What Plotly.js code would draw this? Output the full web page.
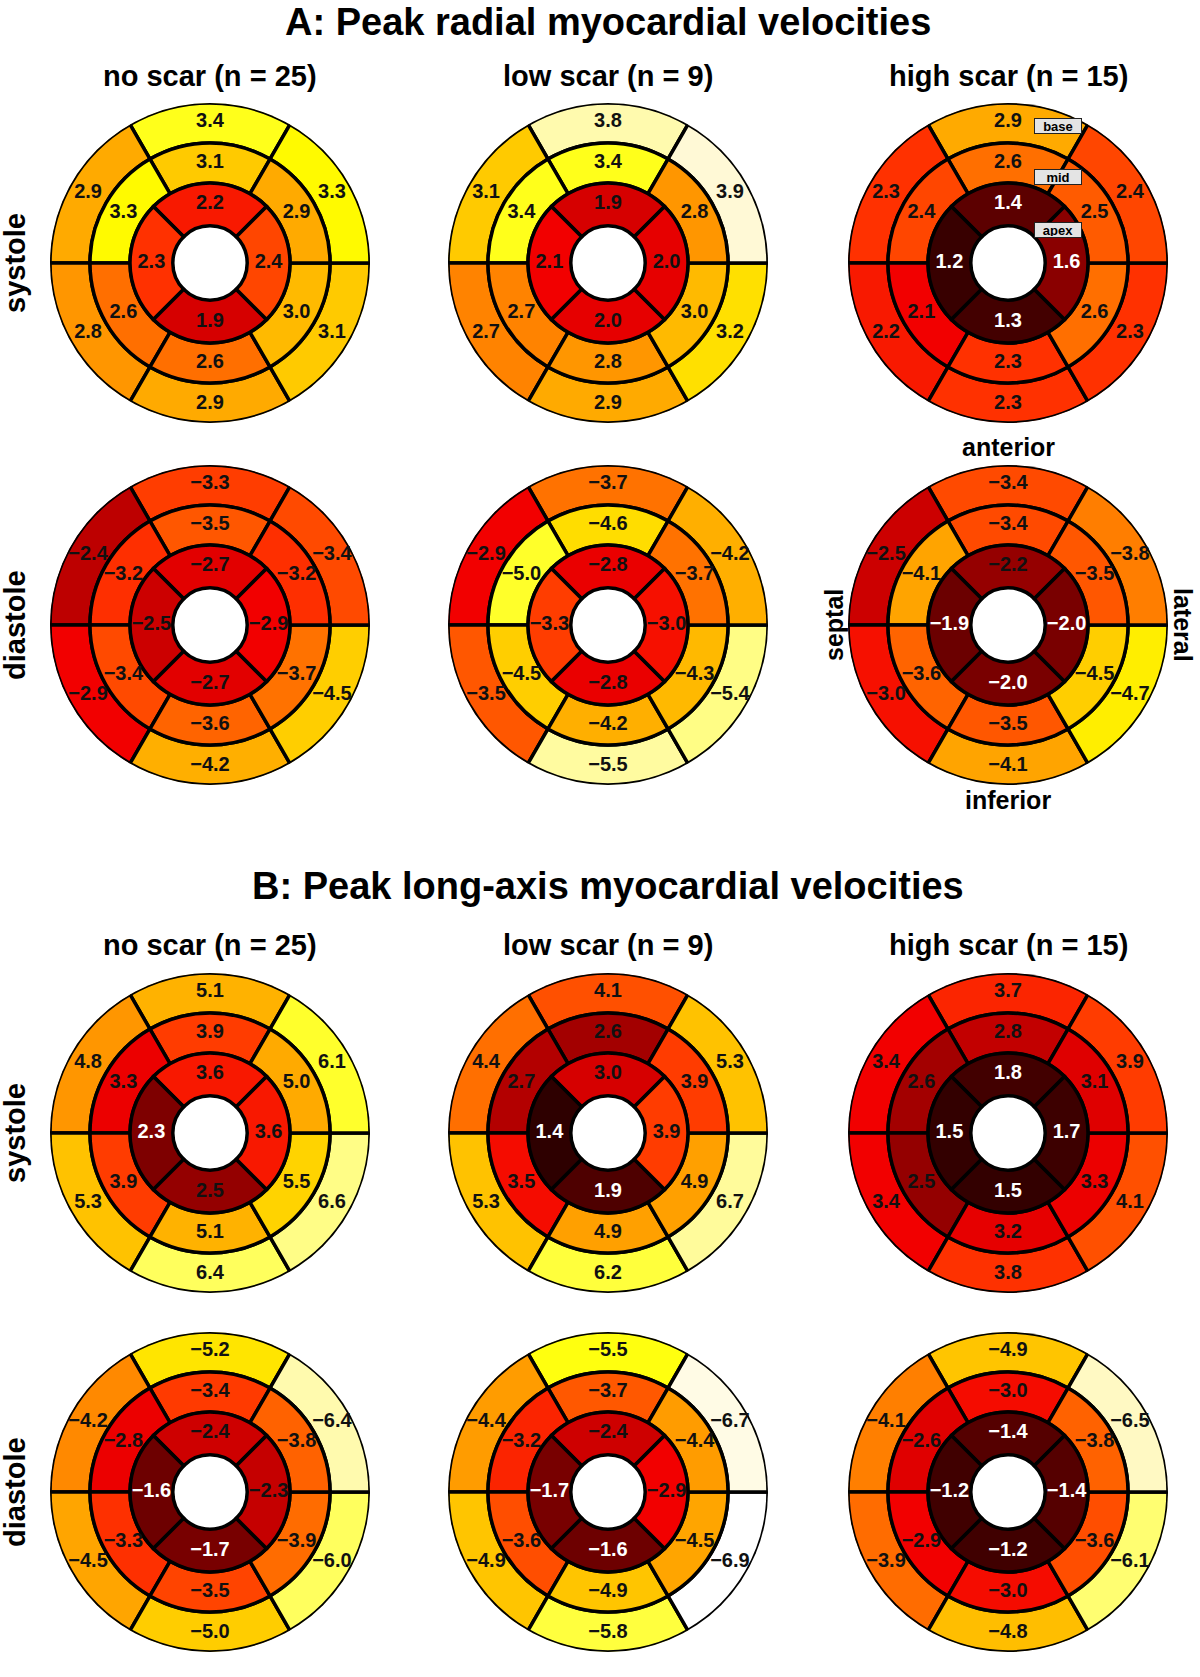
<!DOCTYPE html>
<html>
<head>
<meta charset="utf-8">
<script src="https://cdn.plot.ly/plotly-3.0.1.min.js"></script>
<style>
  body { margin: 0; background: #fff; }
</style>
</head>
<body>
<div id="plot" style="width:1200px;height:1677px"></div>
<script>
// groups (columns)
var groups = ['no scar (n = 25)', 'low scar (n = 9)', 'high scar (n = 15)'];

// segment order, base & mid: anterior, anteroseptal, inferoseptal, inferior, inferolateral, anterolateral
// apex: anterior, septal, inferior, lateral
// one entry per group: no scar, low scar, high scar

// A: radial, systole
var aSysBase = [[3.4, 2.9, 2.8, 2.9, 3.1, 3.3], [3.8, 3.1, 2.7, 2.9, 3.2, 3.9], [2.9, 2.3, 2.2, 2.3, 2.3, 2.4]];
var aSysMid  = [[3.1, 3.3, 2.6, 2.6, 3.0, 2.9], [3.4, 3.4, 2.7, 2.8, 3.0, 2.8], [2.6, 2.4, 2.1, 2.3, 2.6, 2.5]];
var aSysApex = [[2.2, 2.3, 1.9, 2.4], [1.9, 2.1, 2.0, 2.0], [1.4, 1.2, 1.3, 1.6]];

// A: radial, diastole
var aDiaBase = [[-3.3, -2.4, -2.9, -4.2, -4.5, -3.4], [-3.7, -2.9, -3.5, -5.5, -5.4, -4.2], [-3.4, -2.5, -3.0, -4.1, -4.7, -3.8]];
var aDiaMid  = [[-3.5, -3.2, -3.4, -3.6, -3.7, -3.2], [-4.6, -5.0, -4.5, -4.2, -4.3, -3.7], [-3.4, -4.1, -3.6, -3.5, -4.5, -3.5]];
var aDiaApex = [[-2.7, -2.5, -2.7, -2.9], [-2.8, -3.3, -2.8, -3.0], [-2.2, -1.9, -2.0, -2.0]];

// B: long-axis, systole
var bSysBase = [[5.1, 4.8, 5.3, 6.4, 6.6, 6.1], [4.1, 4.4, 5.3, 6.2, 6.7, 5.3], [3.7, 3.4, 3.4, 3.8, 4.1, 3.9]];
var bSysMid  = [[3.9, 3.3, 3.9, 5.1, 5.5, 5.0], [2.6, 2.7, 3.5, 4.9, 4.9, 3.9], [2.8, 2.6, 2.5, 3.2, 3.3, 3.1]];
var bSysApex = [[3.6, 2.3, 2.5, 3.6], [3.0, 1.4, 1.9, 3.9], [1.8, 1.5, 1.5, 1.7]];

// B: long-axis, diastole
var bDiaBase = [[-5.2, -4.2, -4.5, -5.0, -6.0, -6.4], [-5.5, -4.4, -4.9, -5.8, -6.9, -6.7], [-4.9, -4.1, -3.9, -4.8, -6.1, -6.5]];
var bDiaMid  = [[-3.4, -2.8, -3.3, -3.5, -3.9, -3.8], [-3.7, -3.2, -3.6, -4.9, -4.5, -4.4], [-3.0, -2.6, -2.9, -3.0, -3.6, -3.8]];
var bDiaApex = [[-2.4, -1.6, -1.7, -2.3], [-2.4, -1.7, -1.6, -2.9], [-1.4, -1.2, -1.2, -1.4]];

// colour range (absolute velocity) used for each row
var rows = [
    {base: aSysBase, mid: aSysMid, apex: aSysApex, lo: 1.06, hi: 4.03, label: 'systole'},
    {base: aDiaBase, mid: aDiaMid, apex: aDiaApex, lo: 1.28, hi: 5.91, label: 'diastole'},
    {base: bSysBase, mid: bSysMid, apex: bSysApex, lo: 1.33, hi: 7.25, label: 'systole'},
    {base: bDiaBase, mid: bDiaMid, apex: bDiaApex, lo: 0.76, hi: 6.87, label: 'diastole'}
];

var heat = [
    [0, '#2a0000'], [0.08, '#420000'], [0.13, '#680000'], [0.2, '#960000'],
    [0.25, '#c40000'], [0.3, '#e00000'], [0.35, '#f20000'], [0.42, '#ff3300'],
    [0.52, '#ff7000'], [0.62, '#ffaa00'], [0.7, '#ffd000'], [0.76, '#ffff00'],
    [0.86, '#ffff60'], [0.95, '#fff8d0'], [1, '#ffffff']
];

var W = 1200, H = 1677;
var colX = [210, 608, 1008];
var rowY = [263, 625, 1133, 1492];
var R = 160;
var sixAng = [90, 150, 210, 270, 330, 30];
var fourAng = [90, 180, 270, 0];
var font = 'Liberation Sans, Arial, sans-serif';

function fmt(v) {
    return (v < 0 ? '\u2212' : '') + Math.abs(v).toFixed(1);
}

var data = [];
var layout = {
    width: W,
    height: H,
    margin: {t: 0, l: 0, r: 0, b: 0},
    paper_bgcolor: '#fff',
    showlegend: false,
    annotations: []
};

function px(x) { return x / W; }
function py(y) { return 1 - y / H; }

rows.forEach(function (row, i) {
    var neg = row.base[0][0] < 0;
    groups.forEach(function (g, j) {
        var k = i * 3 + j + 1;
        var pid = k === 1 ? 'polar' : 'polar' + k;
        var cx = colX[j], cy = rowY[i];

        layout[pid] = {
            domain: {x: [px(cx - R), px(cx + R)], y: [py(cy + R), py(cy - R)]},
            bgcolor: 'rgba(0,0,0,0)',
            radialaxis: {visible: false, range: [0, 4]},
            angularaxis: {visible: false, direction: 'counterclockwise', rotation: 0}
        };

        var marker = function (vals) {
            return {
                color: vals,
                colorscale: heat,
                reversescale: neg,
                cmin: neg ? -row.hi : row.lo,
                cmax: neg ? -row.lo : row.hi,
                showscale: false,
                line: {color: '#000', width: 3.5}
            };
        };

        var rings = [
            {vals: row.base[j], ang: sixAng, w: 60, b: 3, r: 1, mid: 3.52},
            {vals: row.mid[j], ang: sixAng, w: 60, b: 2, r: 1, mid: 2.5},
            {vals: row.apex[j], ang: fourAng, w: 90, b: 0.93, r: 1.07, mid: 1.465}
        ];

        var tr = [], tt = [], tx = [], tc = [];
        rings.forEach(function (ring) {
            data.push({
                type: 'barpolar',
                subplot: pid,
                theta: ring.ang,
                r: ring.vals.map(function () { return ring.r; }),
                base: ring.vals.map(function () { return ring.b; }),
                width: ring.vals.map(function () { return ring.w; }),
                marker: marker(ring.vals),
                hoverinfo: 'skip'
            });
            ring.vals.forEach(function (v, n) {
                var t = (Math.abs(v) - row.lo) / (row.hi - row.lo);
                tr.push(ring.mid);
                tt.push(ring.ang[n]);
                tx.push(fmt(v));
                tc.push(t < 0.185 ? '#fff' : '#111');
            });
        });

        data.push({
            type: 'scatterpolar',
            subplot: pid,
            mode: 'text',
            r: tr,
            theta: tt,
            text: tx,
            textfont: {family: font, size: 20, color: tc, weight: 'bold'},
            hoverinfo: 'skip'
        });

        if (i === 0 || i === 2) {
            layout.annotations.push({
                text: '<b>' + g + '</b>', x: px(cx), y: py(i === 0 ? 76 : 945),
                xref: 'paper', yref: 'paper', showarrow: false,
                xanchor: 'center', yanchor: 'middle',
                font: {family: font, size: 29, color: '#000'}
            });
        }
    });

    layout.annotations.push({
        text: '<b>' + row.label + '</b>', x: px(15), y: py(rowY[i]),
        xref: 'paper', yref: 'paper', showarrow: false, textangle: -90,
        xanchor: 'center', yanchor: 'middle',
        font: {family: font, size: 29, color: '#000'}
    });
});

// panel titles
[['A: Peak radial myocardial velocities', 22], ['B: Peak long-axis myocardial velocities', 886]].forEach(function (t) {
    layout.annotations.push({
        text: '<b>' + t[0] + '</b>', x: px(608), y: py(t[1]),
        xref: 'paper', yref: 'paper', showarrow: false,
        xanchor: 'center', yanchor: 'middle',
        font: {family: font, size: 38, color: '#000'}
    });
});

// orientation labels around the high scar diastole bullseye
[['anterior', 1008, 447, 0], ['inferior', 1008, 800, 0], ['septal', 834, 625, -90], ['lateral', 1183, 625, 90]].forEach(function (t) {
    layout.annotations.push({
        text: '<b>' + t[0] + '</b>', x: px(t[1]), y: py(t[2]),
        xref: 'paper', yref: 'paper', showarrow: false, textangle: t[3],
        xanchor: 'center', yanchor: 'middle',
        font: {family: font, size: 25, color: '#000'}
    });
});

// ring name boxes
[['base', 126], ['mid', 177], ['apex', 230]].forEach(function (t) {
    layout.annotations.push({
        text: '<b>' + t[0] + '</b>', x: px(1058), y: py(t[1]),
        xref: 'paper', yref: 'paper', showarrow: false,
        xanchor: 'center', yanchor: 'middle', width: 44, height: 12,
        bgcolor: '#e4e4e4', bordercolor: '#222', borderwidth: 1, borderpad: 1,
        font: {family: font, size: 13, color: '#000'}
    });
});

Plotly.newPlot('plot', data, layout, {staticPlot: true});
</script>
</body>
</html>
